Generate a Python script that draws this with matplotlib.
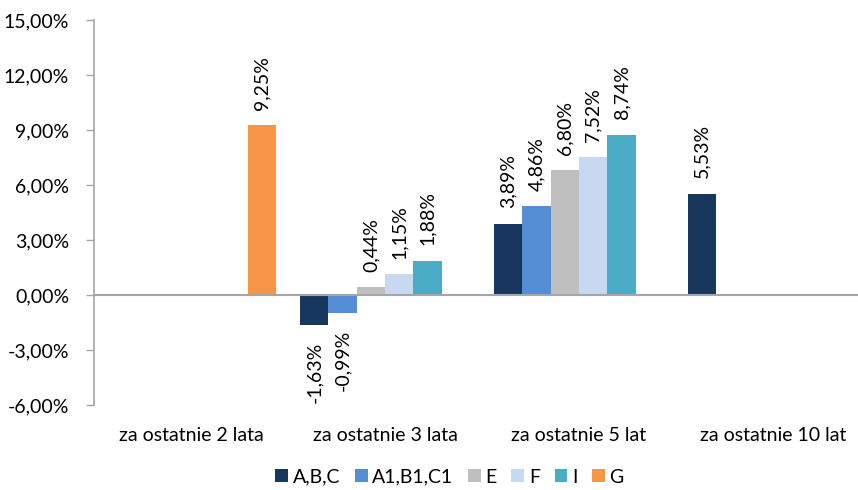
import numpy as np
import matplotlib
matplotlib.use("Agg")
import matplotlib.pyplot as plt

# Data (values in %), None = no bar
categories = ["za ostatnie 2 lata", "za ostatnie 3 lata",
              "za ostatnie 5 lat", "za ostatnie 10 lat"]
series_names = ["A,B,C", "A1,B1,C1", "E", "F", "I", "G"]
vals_abc = [None, -1.63, 3.89, 5.53]
vals_a1 = [None, -0.99, 4.86, None]
vals_e = [None, 0.44, 6.80, None]
vals_f = [None, 1.15, 7.52, None]
vals_i = [None, 1.88, 8.74, None]
vals_g = [9.25, None, None, None]
series_values = [vals_abc, vals_a1, vals_e, vals_f, vals_i, vals_g]
colors = ["#17375E", "#558ED5", "#BFBFBF", "#C6D9F1", "#4BACC6", "#F79646"]
y_ticks = [-6, -3, 0, 3, 6, 9, 12, 15]

plt.rcParams["font.family"] = ["Lato", "DejaVu Sans"]
FS = 14

fig = plt.figure(figsize=(8.58, 4.9), dpi=100)
# axes run a little past the right edge, as in the original
ax = fig.add_axes([94 / 858, 85 / 490, 776 / 858, 385 / 490])

x = np.arange(len(categories))
width = 0.146
n = len(series_names)
for k, (name, vals, col) in enumerate(zip(series_names, series_values, colors)):
    offs = (k - (n - 1) / 2) * width
    xs = [xi + offs for xi, v in zip(x, vals) if v is not None]
    ys = [v for v in vals if v is not None]
    bars = ax.bar(xs, ys, width=width, color=col, label=name, zorder=2)
    for b, v in zip(bars, ys):
        lbl = f"{v:.2f}%".replace(".", ",")
        if v >= 0:
            ax.annotate(lbl, (b.get_x() + b.get_width() / 2, v),
                        xytext=(0, 11), textcoords="offset points",
                        rotation=90, ha="center", va="bottom", fontsize=FS)
        else:
            ax.annotate(lbl, (b.get_x() + b.get_width() / 2, v),
                        xytext=(0, -12), textcoords="offset points",
                        rotation=90, ha="center", va="top", fontsize=FS)

ax.axhline(0, color="#A6A6A6", linewidth=1.5, zorder=3)
ax.set_xlim(-0.5, len(categories) - 0.5)
ax.set_ylim(-6, 15)
ax.set_yticks(y_ticks)
ax.set_yticklabels([f"{t:.2f}%".replace(".", ",") for t in y_ticks])
ax.set_xticks(x)
ax.set_xticklabels(categories)
ax.tick_params(axis="x", length=0, pad=16, labelsize=FS)
ax.tick_params(axis="y", length=6, width=1, color="#A6A6A6",
               pad=12, labelsize=FS)

for s in ["top", "right", "bottom"]:
    ax.spines[s].set_visible(False)
ax.spines["left"].set_color("#A6A6A6")
ax.spines["left"].set_linewidth(1.2)

fig.legend(loc="lower center", bbox_to_anchor=(0.524, -0.027), ncol=6,
           frameon=False, fontsize=FS, handlelength=0.65, handleheight=0.65,
           handletextpad=0.25, columnspacing=0.75)

plt.savefig("out.png", dpi=100)
